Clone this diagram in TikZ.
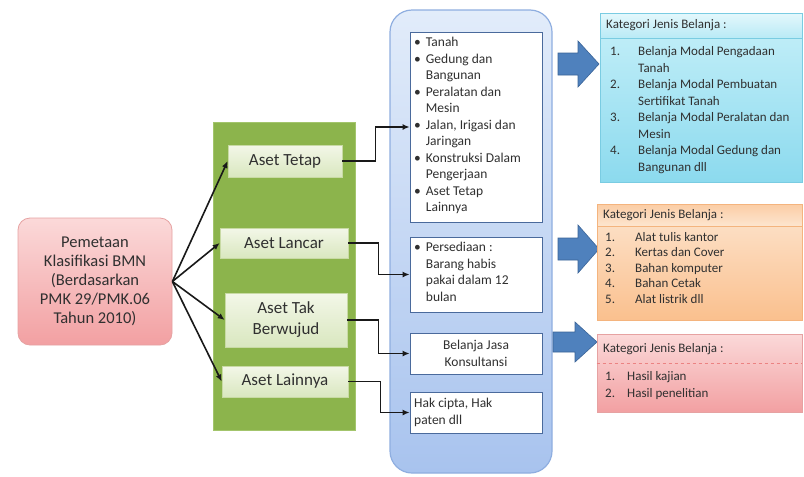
\documentclass[tikz,border=0pt]{standalone}
\usepackage{fontspec}
\setmainfont{Carlito}
\usetikzlibrary{arrows.meta}
\definecolor{txt}{HTML}{303030}
\definecolor{bcTop}{HTML}{E2ECFA}
\definecolor{bcBot}{HTML}{A8C3EE}
\definecolor{bcDraw}{HTML}{8FAEE0}
\definecolor{arrFill}{HTML}{4F81BD}
\definecolor{arrDraw}{HTML}{3A6498}
\definecolor{innerDraw}{HTML}{4A6A9C}
\definecolor{grn}{HTML}{8CB44C}
\definecolor{grnEdge}{HTML}{A3C56C}
\definecolor{agTop}{HTML}{F3F7E8}
\definecolor{agBot}{HTML}{D9E7BF}
\definecolor{agDraw}{HTML}{C8DAA4}
\definecolor{cyTop}{HTML}{C6F0F9}
\definecolor{cyBot}{HTML}{8CDAEE}
\definecolor{cyDraw}{HTML}{7ACCE2}
\definecolor{cyhTop}{HTML}{E4F8FC}
\definecolor{cyhBot}{HTML}{B9EAF6}
\definecolor{orTop}{HTML}{FDE5CF}
\definecolor{orBot}{HTML}{FAC08E}
\definecolor{orDraw}{HTML}{F4B47E}
\definecolor{pkTop}{HTML}{FBD9D9}
\definecolor{pkBot}{HTML}{F2A0A2}
\definecolor{pkDraw}{HTML}{E6A2A2}
\begin{document}
\begin{tikzpicture}[x=1pt,y=-1pt,
  every node/.style={text=txt, inner sep=0pt},
  conn/.style={draw=black!90, line width=1.6pt, -{Latex[length=7pt,width=6pt]}},
  asset/.style={draw=agDraw, top color=agTop, bottom color=agBot, line width=0.6pt, font=\fontsize{17}{21}\selectfont, align=center},
  innerbox/.style={draw=innerDraw, fill=white, line width=0.8pt},
  bigarrow/.style={fill=arrFill, draw=arrDraw, line width=0.6pt},
  small/.style={font=\fontsize{13.5}{16.5}\selectfont},
  rtext/.style={font=\fontsize{13}{16.5}\selectfont},
]
\useasboundingbox (0,0) rectangle (804,477);
\fill[white] (0,0) rectangle (804,477);

% left pink box
\node[draw=pkDraw, line width=0.8pt, top color=pkTop, bottom color=pkBot,
  rounded corners=12pt, minimum width=154pt, minimum height=127pt, align=center,
  font=\fontsize{16.5}{19}\selectfont] (pm) at (95,281.5)
  {Pemetaan\\Klasifikasi BMN\\(Berdasarkan\\PMK 29/PMK.06\\Tahun 2010)};

% green panel
\node[fill=grn, draw=grnEdge, minimum width=142pt, minimum height=308pt] (gp) at (284,276) {};

\node[asset, minimum width=114pt, minimum height=32pt] (tetap) at (285,161) {Aset Tetap};
\node[asset, minimum width=128pt, minimum height=30pt] (lancar) at (284,243) {Aset Lancar};
\node[asset, minimum width=122pt, minimum height=54pt] (takber) at (286,320) {Aset Tak\\Berwujud};
\node[asset, minimum width=126pt, minimum height=31pt] (lain) at (285,381.5) {Aset Lainnya};

% blue container
\node[draw=bcDraw, line width=1.2pt, top color=bcTop, bottom color=bcBot,
  rounded corners=22pt, minimum width=162pt, minimum height=463pt] (bc) at (471,241.5) {};

\node[innerbox, minimum width=132pt, minimum height=190pt] (b1) at (476,127) {};
\node[small, anchor=north west] (b1t) at (414,35) {%
\begin{tabular}{@{}l@{\hspace{5pt}}l@{}}
\textbullet & Tanah\\
\textbullet & Gedung dan\\
 & Bangunan\\
\textbullet & Peralatan dan\\
 & Mesin\\
\textbullet & Jalan, Irigasi dan\\
 & Jaringan\\
\textbullet & Konstruksi Dalam\\
 & Pengerjaan\\
\textbullet & Aset Tetap\\
 & Lainnya
\end{tabular}};

\node[innerbox, minimum width=132pt, minimum height=75pt] (b2) at (476,274.5) {};
\node[small, anchor=north west] (b2t) at (414,240) {%
\begin{tabular}{@{}l@{\hspace{5pt}}l@{}}
\textbullet & Persediaan :\\
 & Barang habis\\
 & pakai dalam 12\\
 & bulan
\end{tabular}};

\node[innerbox, minimum width=132pt, minimum height=41pt, small, align=center] (b3) at (476,353.5) {Belanja Jasa\\Konsultansi};
\node[innerbox, minimum width=132pt, minimum height=41pt] (b4) at (476,412.5) {};
\node[small, anchor=west, align=left] (b4t) at (414,412.5) {Hak cipta, Hak\\paten dll};

% left arrows
\draw[conn] (pm.east) -- (tetap.west);
\draw[conn] (pm.east) -- (lancar.west);
\draw[conn] (pm.east) -- (takber.west);
\draw[conn] (pm.east) -- (lain.west);

% elbow connectors
\draw[conn] (tetap.east) -- ++(33,0) |- (b1.west);
\draw[conn] (lancar.east) -- ++(30,0) |- (b2.west);
\draw[conn] (takber.east) -- ++(31,0) |- (b3.west);
\draw[conn] (lain.east) -- ++(32,0) |- (b4.west);

% big blue arrows
\path[bigarrow] (558,53) -- (578,53) -- (578,41) -- (599,64) -- (578,87) -- (578,75) -- (558,75) -- cycle;
\path[bigarrow] (558,238) -- (578,238) -- (578,225) -- (599,249) -- (578,273) -- (578,260) -- (558,260) -- cycle;
\path[bigarrow] (553,332) -- (575,332) -- (575,322) -- (597,342) -- (575,362) -- (575,352) -- (553,352) -- cycle;

% cyan box
\node[draw=cyDraw, line width=0.8pt, top color=cyTop, bottom color=cyBot,
  minimum width=202pt, minimum height=169pt] (cb) at (701,97.5) {};
\node[draw=cyDraw, line width=0.6pt, top color=cyhTop, bottom color=cyhBot,
  minimum width=202pt, minimum height=25pt] (ch) at (701,25.5) {};
\node[rtext, anchor=west] (cht) at (606,25.5) {Kategori Jenis Belanja :};
\node[rtext, anchor=north west] (cl) at (610,44) {%
\begin{tabular}{@{}p{28pt}@{}l@{}}
1. & Belanja Modal Pengadaan\\
 & Tanah\\
2. & Belanja Modal Pembuatan\\
 & Sertifikat Tanah\\
3. & Belanja Modal Peralatan dan\\
 & Mesin\\
4. & Belanja Modal Gedung dan\\
 & Bangunan dll
\end{tabular}};

% orange box
\node[draw=orDraw, line width=0.8pt, top color=orTop, bottom color=orBot,
  minimum width=205pt, minimum height=116pt] (ob) at (699.5,262) {};
\node[draw=orDraw, line width=0.6pt, top color=orBot!80!white, bottom color=orTop,
  minimum width=205pt, minimum height=22pt] (oh) at (699.5,215) {};
\node[rtext, anchor=west] (oht) at (603,215) {Kategori Jenis Belanja :};
\node[rtext, anchor=north west, font=\fontsize{13}{15.5}\selectfont] (ol) at (605,230) {%
\begin{tabular}{@{}p{30pt}@{}l@{}}
1. & Alat tulis kantor\\
2. & Kertas dan Cover\\
3. & Bahan komputer\\
4. & Bahan Cetak\\
5. & Alat listrik dll
\end{tabular}};

% pink right box
\node[draw=pkDraw, line width=0.8pt, top color=pkTop, bottom color=pkBot,
  minimum width=205pt, minimum height=78pt] (pb) at (699.5,373) {};
\draw[pkDraw!80!red, line width=0.8pt, dashed] (pb.west |- 0,363) -- (pb.east |- 0,363);
\node[rtext, anchor=west] (pht) at (603,349) {Kategori Jenis Belanja :};
\node[rtext, anchor=north west] (pl) at (605,369) {%
\begin{tabular}{@{}p{22pt}@{}l@{}}
1. & Hasil kajian\\
2. & Hasil penelitian
\end{tabular}};
\end{tikzpicture}
\end{document}
